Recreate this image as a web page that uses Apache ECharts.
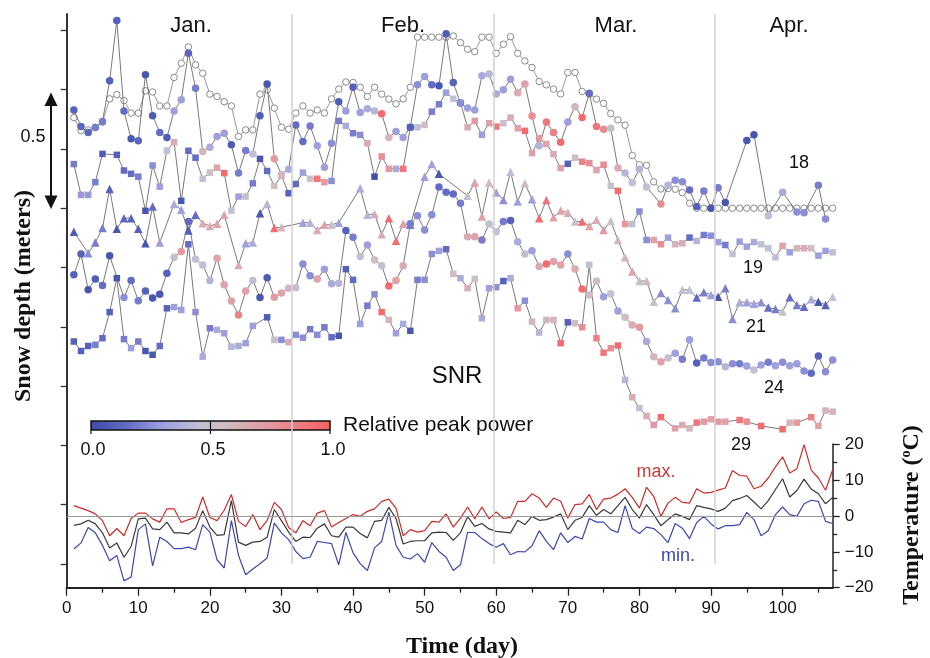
<!DOCTYPE html>
<html><head><meta charset="utf-8">
<script src="https://cdn.jsdelivr.net/npm/echarts@6/dist/echarts.min.js"></script>
<style>html,body{margin:0;padding:0;background:#fff}#c{width:930px;height:658px}</style>
</head><body><div id="c"></div>
<script>
// ---------------- data (index i -> day i+1) ----------------
const monthNames = ['Jan.', 'Feb.', 'Mar.', 'Apr.'];
const monthBounds = [31.5, 59.6, 90.5];
const dayTicks = [0, 10, 20, 30, 40, 50, 60, 70, 80, 90, 100];
const dayMinorTicks = [5, 15, 25, 35, 45, 55, 65, 75, 85, 95, 105];
const depthTicks = [-1.5, -1.25, -1, -0.75, -0.5, -0.25, 0, 0.25, 0.5, 0.75];
const tempTicks = [-20, -10, 0, 10, 20];
const powerTicks = ['0.0', '0.5', '1.0'];

// reference snow depth (open circles), metres
const refDepth = [0.382,0.327,0.330,0.341,0.363,0.461,0.479,0.454,0.401,0.401,
 0.495,0.490,0.431,0.431,0.551,0.611,0.680,0.604,0.569,0.481,
 0.471,0.449,0.431,0.302,0.330,0.330,0.481,0.499,0.422,0.341,
 0.333,0.401,0.431,0.401,0.414,0.401,0.461,0.502,0.532,0.530,
 0.510,0.471,0.510,0.481,0.460,0.440,0.461,0.510,0.721,0.721,
 0.721,0.721,0.721,0.726,0.698,0.670,0.660,0.721,0.721,0.653,
 0.691,0.723,0.653,0.621,0.593,0.534,0.520,0.502,0.482,0.572,
 0.572,0.492,0.481,0.460,0.442,0.399,0.372,0.350,0.222,0.183,
 0.181,0.111,0.081,0.083,0.080,0.066,0.021,0,0,0,
 0,0,0,0,0,0,0,0,0,0,
 0,0,0,0,0,0,0];

// SNR-derived depth (offset per satellite) and relative peak power
const snr18 = [0.414,0.344,0.319,0.340,0.365,0.537,0.791,0.410,0.293,0.284,
 0.563,0.390,0.319,0.298,0.410,0.457,0.653,0.506,0.239,0.257,
 0.302,0.316,0.267,0.148,0.243,0.229,0.390,0.524,0.208,0.143,
 0.164,0.351,0.281,0.347,0.263,0.173,0.274,0.449,0.410,0.510,
 0.403,0.419,0.410,0.398,0.298,0.323,0.298,0.341,0.520,0.555,
 0.520,0.516,0.735,0.530,0.443,0.422,0.414,0.558,0.566,0.481,
 0.499,0.544,0.487,0.524,0.389,0.263,0.363,0.319,0.278,0.363,
 0.428,0.382,0.485,0.344,0.333,0.337,0.169,0.148,0.108,0.164,
 0.089,null,0.018,0.097,0.118,0.111,0.077,0.007,0.073,0.000,
 0.086,0.024,null,null,0.285,0.310,null,-0.032,null,0.067,
 null,-0.016,-0.019,null,0.097,-0.046,null];
const pow18 = [0.10,0.12,0.12,0.20,0.20,0.10,0.10,0.15,0.05,0.12,
 0.05,0.08,0.15,0.08,0.30,0.30,0.12,0.20,0.60,0.35,
 0.30,0.30,0.08,0.20,0.20,0.45,0.08,0.05,0.75,0.45,
 0.35,0.15,0.15,0.20,0.30,0.30,0.25,0.08,0.30,0.10,
 0.30,0.35,0.40,0.95,0.60,0.30,0.30,0.10,0.25,0.30,
 0.15,0.05,0.08,0.10,0.15,0.30,0.30,0.35,0.40,0.35,
 0.30,0.30,0.65,0.70,0.80,0.40,0.90,0.85,0.95,0.30,
 0.60,0.95,0.15,0.90,0.80,0.45,0.65,0.40,0.45,0.40,
 0.45,null,0.80,0.40,0.25,0.25,0.15,0.10,0.20,0.05,
 0.20,0.05,null,null,0.05,0.05,null,0.45,null,0.35,
 null,0.25,0.25,null,0.20,0.25,null];

const snr19 = [0.186,0.056,0.056,0.110,0.229,null,0.225,0.159,0.145,0.133,
 -0.011,0.180,0.091,0.243,0.278,0.031,0.242,0.213,0.124,0.150,
 0.171,0.148,-0.010,0.049,0.049,0.105,0.208,0.157,0.094,0.136,
 0.063,0.102,0.150,0.124,0.124,0.110,0.115,0.368,0.347,0.316,
 0.309,0.274,0.133,0.218,0.166,0.166,0.166,0.341,0.341,0.351,
 0.407,0.438,0.487,0.461,0.445,0.341,0.368,0.309,0.358,0.344,
 0.358,0.382,0.337,0.326,0.232,0.295,0.271,0.228,0.169,0.187,
 0.213,0.196,0.190,0.161,0.183,0.094,0.073,-0.067,-0.067,-0.014,
 -0.134,-0.134,-0.152,-0.124,-0.152,-0.148,-0.124,-0.138,-0.113,-0.116,
 -0.143,-0.155,-0.193,-0.141,-0.162,-0.143,-0.152,-0.169,-0.207,-0.159,
 -0.186,-0.169,-0.169,-0.169,-0.200,-0.180,-0.186];
const pow19 = [0.20,0.28,0.28,0.20,0.08,null,0.10,0.15,0.15,0.20,
 0.05,0.25,0.30,0.45,0.65,0.05,0.15,0.15,0.45,0.55,
 0.70,0.95,0.45,0.30,0.50,0.20,0.05,0.15,0.55,0.60,
 0.10,0.15,0.30,0.55,0.90,0.75,0.25,0.20,0.35,0.20,
 0.25,0.65,0.02,0.80,0.75,0.35,0.90,0.10,0.45,0.55,
 0.20,0.20,0.30,0.45,0.25,0.65,0.75,0.30,0.70,0.90,
 0.50,0.65,0.70,0.95,0.70,0.75,0.70,0.65,0.70,0.10,
 0.55,0.85,0.80,0.70,0.80,0.50,0.95,0.75,0.45,0.25,
 0.25,0.70,0.80,0.30,0.60,0.65,0.15,0.40,0.20,0.25,
 0.30,0.20,0.45,0.30,0.30,0.35,0.45,0.45,0.45,0.70,
 0.30,0.60,0.65,0.55,0.30,0.30,0.45];

const snr21 = [-0.099,null,-0.190,-0.145,-0.084,0.081,-0.087,-0.042,-0.042,-0.087,
 -0.148,0.007,-0.145,null,0.018,-0.007,-0.094,-0.028,-0.063,-0.075,
 -0.066,-0.028,null,-0.239,-0.148,-0.145,-0.021,0.018,-0.084,-0.080,
 null,null,-0.061,-0.061,-0.092,-0.070,-0.070,-0.061,null,null,
 0.084,-0.028,-0.024,-0.110,-0.042,-0.137,-0.066,-0.070,null,0.133,
 0.186,0.145,null,null,null,0.052,0.108,-0.035,0.108,0.066,
 0.035,0.154,0.028,0.105,0.038,-0.042,0.035,-0.038,-0.010,-0.019,
 -0.056,-0.056,-0.075,-0.049,-0.092,-0.054,-0.134,-0.207,-0.267,-0.307,
 -0.307,-0.394,-0.358,-0.387,-0.422,-0.344,-0.344,-0.377,-0.354,-0.366,
 -0.373,-0.337,-0.467,-0.396,-0.396,-0.403,-0.396,-0.419,-0.425,-0.436,
 -0.375,-0.408,-0.415,-0.384,-0.394,-0.408,-0.373];
const pow21 = [0.08,null,0.25,0.20,0.20,0.10,0.05,0.12,0.12,0.10,
 0.05,0.15,0.30,null,0.35,0.30,0.10,0.15,0.65,0.65,
 0.70,0.70,null,0.65,0.30,0.35,0.05,0.40,0.95,0.60,
 null,null,0.30,0.40,0.65,0.70,0.50,0.30,null,null,
 0.35,0.40,0.65,0.65,0.95,0.95,0.70,0.20,null,0.30,
 0.30,0.05,null,null,null,0.50,0.70,0.70,0.55,0.30,
 0.25,0.45,0.30,0.55,0.30,0.95,0.90,0.70,0.70,0.65,
 0.50,0.95,0.70,0.65,0.75,0.50,0.60,0.60,0.70,0.50,
 0.60,0.50,0.25,0.25,0.25,0.50,0.45,0.15,0.20,0.30,
 0.05,0.20,0.25,0.35,0.30,0.30,0.25,0.15,0.20,0.55,
 0.15,0.20,0.15,0.35,0.05,0.10,0.45];

const snr24 = [-0.281,-0.193,-0.344,-0.298,-0.326,-0.201,null,-0.377,-0.305,-0.390,
 -0.349,-0.379,-0.363,-0.274,-0.207,-0.183,-0.056,-0.215,-0.239,-0.305,
 -0.211,-0.323,-0.391,-0.450,-0.349,-0.305,-0.377,-0.293,-0.375,-0.358,
 -0.337,-0.335,-0.235,-0.285,-0.299,-0.257,-0.319,-0.316,-0.094,-0.122,
 -0.204,-0.155,-0.218,-0.243,-0.328,-0.305,-0.243,-0.066,-0.032,-0.092,
 -0.028,0.089,0.067,0.060,0.021,-0.120,-0.120,-0.134,-0.067,-0.099,
 -0.056,-0.052,-0.141,-0.193,-0.179,-0.246,-0.235,-0.225,-0.239,-0.193,
 -0.256,-0.341,-0.366,-0.307,-0.373,-0.361,-0.433,-0.460,-0.492,-0.502,
 -0.562,-0.626,-0.647,-0.632,-0.611,-0.637,-0.555,-0.653,-0.632,-0.651,
 -0.647,-0.668,-0.656,-0.656,-0.665,-0.682,-0.661,-0.649,-0.664,-0.649,
 -0.664,-0.656,-0.686,-0.696,-0.623,-0.689,-0.640];
const pow24 = [0.10,0.10,0.05,0.08,0.15,0.05,null,0.25,0.15,0.20,
 0.10,0.05,0.05,0.10,0.50,0.75,0.15,0.45,0.45,0.40,
 0.70,0.70,0.70,0.85,0.70,0.45,0.05,0.08,0.75,0.70,
 0.60,0.45,0.25,0.25,0.70,0.30,0.35,0.40,0.10,0.20,
 0.45,0.30,0.55,0.45,0.95,0.70,0.65,0.20,0.25,0.25,
 0.25,0.15,0.15,0.15,0.20,0.65,0.70,0.20,0.45,0.45,
 0.20,0.10,0.35,0.45,0.30,0.65,0.95,0.70,0.70,0.25,
 0.65,0.95,0.55,0.55,0.30,0.50,0.30,0.55,0.65,0.75,
 0.35,0.60,0.70,0.50,0.30,0.20,0.30,0.10,0.20,0.25,
 0.25,0.40,0.25,0.20,0.30,0.45,0.30,0.20,0.30,0.25,
 0.30,0.30,0.25,0.15,0.10,0.25,0.25];

const snr29 = [-0.562,-0.602,-0.581,-0.576,-0.548,-0.438,-0.295,-0.552,-0.590,-0.562,
 -0.602,-0.618,-0.581,-0.422,-0.417,-0.429,-0.152,-0.438,-0.626,-0.506,
 -0.513,-0.527,-0.584,-0.581,-0.569,-0.496,null,-0.460,-0.555,-0.555,
 -0.565,-0.534,-0.546,-0.510,-0.534,-0.502,-0.544,-0.538,-0.257,-0.302,
 -0.488,-0.411,-0.363,-0.438,-0.471,-0.527,-0.488,-0.517,-0.302,-0.302,
 -0.193,-0.180,-0.173,-0.277,-0.295,-0.337,-0.298,-0.464,-0.337,-0.333,
 -0.307,-0.295,-0.422,-0.390,-0.478,-0.524,-0.471,-0.471,-0.569,-0.481,
 -0.485,-0.502,-0.239,-0.548,-0.609,-0.590,-0.579,-0.724,-0.797,-0.843,
 -0.876,-0.914,-0.881,null,-0.928,-0.914,-0.928,-0.904,-0.900,-0.890,
 -0.900,-0.900,null,-0.893,-0.900,null,-0.918,null,null,-0.932,
 -0.904,-0.904,null,-0.881,-0.918,-0.853,-0.858];
const pow29 = [0.10,0.10,0.10,0.20,0.15,0.10,0.05,0.20,0.30,0.20,
 0.05,0.05,0.15,0.10,0.30,0.30,0.15,0.25,0.35,0.20,
 0.35,0.30,0.40,0.35,0.30,0.30,null,0.08,0.50,0.25,
 0.65,0.25,0.25,0.20,0.25,0.20,0.15,0.05,0.10,0.15,
 0.30,0.20,0.25,0.95,0.60,0.30,0.35,0.05,0.20,0.25,
 0.25,0.30,0.15,0.55,0.35,0.65,0.55,0.35,0.30,0.25,
 0.10,0.35,0.75,0.25,0.60,0.40,0.60,0.60,0.95,0.10,
 0.55,0.80,0.45,0.85,0.90,0.80,0.95,0.40,0.65,0.45,
 0.65,0.75,0.95,null,0.70,0.65,0.60,0.90,0.75,0.70,
 0.75,0.70,null,0.90,0.80,null,0.95,null,null,0.95,
 0.60,0.75,null,0.85,0.70,0.60,0.60];

// daily air temperature, deg C
const tMax = [2.9,2.2,1.5,0.6,-1.3,-5.5,-3.5,-5.5,-0.7,0.8,
 0.8,-0.8,-1.7,2.0,2.0,-1.8,-1.0,-0.4,5.3,-0.4,
 -1.3,1.6,6.0,-1.5,-2.9,0.4,-3.8,-1.2,3.8,1.8,
 -3.2,-4.7,-1.3,-2.7,0.8,1.5,-3.1,-1.8,-0.7,0.4,
 -0.1,1.3,2.0,4.1,4.7,2.2,-5.5,-3.8,-4.5,-4.1,
 -1.5,-1.7,0.6,-3.1,-0.6,2.5,-0.8,2.5,-0.8,1.1,
 -0.7,-0.4,4.1,4.1,6.2,5.0,2.4,5.0,4.1,-0.6,
 3.2,3.4,6.0,1.8,4.7,5.0,6.1,7.6,5.2,2.2,
 8.0,5.5,-0.1,3.6,5.2,3.8,3.6,7.6,6.4,6.6,
 7.2,7.8,12.7,11.3,11.1,7.6,8.3,10.6,13.7,16.5,
 12.0,13.2,19.9,12.8,10.6,7.2,12.9];
const tMean = [-2.6,-2.2,-1.2,-2.2,-4.7,-8.9,-7.5,-11.5,-8.5,-0.8,
 -0.6,-3.6,-3.8,-1.7,-4.7,-4.7,-5.0,-3.4,1.5,-3.1,
 -5.4,-5.2,4.3,-7.3,-8.2,-7.3,-7.1,-5.9,1.8,-1.3,
 -4.5,-7.1,-5.9,-6.0,-3.4,-2.2,-5.5,-5.9,-3.1,-3.1,
 -4.9,-6.1,-1.5,-1.2,2.4,-0.7,-7.8,-7.1,-6.9,-6.9,
 -4.7,-4.5,-4.6,-6.8,-4.7,-0.2,-2.9,-2.1,-3.6,-4.3,
 -4.5,-4.7,-1.2,-2.4,-0.1,-1.2,-1.0,-0.3,0.6,-3.8,
 -1.2,-0.4,2.9,0.2,1.8,0.6,2.9,5.2,1.8,-0.6,
 3.2,0.4,-2.7,-1.0,0.6,-0.1,-1.0,2.9,2.4,2.0,
 1.3,2.2,4.3,4.9,5.7,3.9,2.0,4.3,7.4,10.4,
 5.3,7.1,10.3,7.5,6.2,3.4,5.2];
const tMin = [-9.2,-7.5,-3.2,-4.7,-8.2,-12.5,-11.0,-18.1,-17.0,-3.8,
 -2.2,-13.9,-5.9,-7.1,-9.1,-9.1,-8.7,-9.4,-2.4,-4.5,
 -12.2,-14.5,-1.3,-11.0,-16.4,-14.8,-13.3,-11.7,-2.0,-4.7,
 -6.6,-9.9,-11.9,-11.5,-7.1,-7.4,-7.7,-13.6,-4.6,-10.3,
 -13.3,-15.2,-8.9,-7.1,1.1,-8.2,-11.5,-12.0,-10.5,-12.9,
 -7.4,-9.9,-11.5,-15.2,-13.6,-4.6,-4.6,-6.3,-7.7,-8.7,
 -7.7,-10.8,-9.9,-10.0,-8.3,-4.1,-7.1,-9.4,-4.7,-7.4,
 -5.7,-6.4,-0.7,-1.7,-1.7,-3.8,-4.6,2.9,-3.5,-4.9,
 -3.1,-3.5,-5.2,-7.4,-2.1,-3.4,-6.3,-1.8,-0.1,-2.2,
 -3.6,-2.7,-2.7,-2.4,1.0,-1.0,-5.5,-4.1,0.4,2.5,
 0.4,-0.1,3.4,4.4,4.1,-1.5,-2.1];

// ---------------- helpers ----------------
const SANS = '"Liberation Sans", Arial, Helvetica, sans-serif';
const SERIF = '"Liberation Serif", "Times New Roman", serif';
const cmapStops = [[0,[60,76,168]],[0.15,[98,108,196]],[0.3,[158,160,222]],[0.45,[192,192,212]],
  [0.55,[206,190,196]],[0.75,[228,152,160]],[1,[248,96,96]]];
function cmap(v){
  if (v == null) v = 0.5;
  v = Math.max(0, Math.min(1, v));
  for (let i = 1; i < cmapStops.length; i++) {
    const [p1, c1] = cmapStops[i], [p0, c0] = cmapStops[i-1];
    if (v <= p1) {
      const t = (v - p0) / (p1 - p0);
      const c = c0.map((a, k) => Math.round(a + (c1[k] - a) * t));
      return 'rgb(' + c.join(',') + ')';
    }
  }
  return 'rgb(248,96,96)';
}
function pts(vals, pows){
  const out = [];
  vals.forEach((v, i) => { if (v !== null) out.push(pows ? [i + 1, v, pows[i]] : [i + 1, v]); });
  return out;
}
const snowSets = [
  {vals: snr18, pow: pow18, symbol: 'circle', size: 7.5},
  {vals: snr19, pow: pow19, symbol: 'rect', size: 6.5},
  {vals: snr21, pow: pow21, symbol: 'triangle', size: 8.5},
  {vals: snr24, pow: pow24, symbol: 'circle', size: 7.5},
  {vals: snr29, pow: pow29, symbol: 'rect', size: 6.5}
];

const G = {left: 66.7, right: 97.3};
const chart = echarts.init(document.getElementById('c'), null, {renderer: 'canvas', width: 930, height: 658});

const txt = (text, x, y, size, opts) => Object.assign({
  type: 'text', x: x, y: y, silent: true,
  style: Object.assign({text: text, fontSize: size, fontFamily: SANS, fill: '#111',
    align: 'center', verticalAlign: 'middle', textAlign: 'center', textVerticalAlign: 'middle'}, (opts && opts.style) || {})
}, (opts && opts.el) || {});

const monthX = [191, 403, 616, 789];
const graphic = [];
monthNames.forEach((m, i) => graphic.push(txt(m, monthX[i], 26, 22)));
graphic.push(txt('0.5', 33, 137, 18));
graphic.push({type: 'line', silent: true, shape: {x1: 51, y1: 100, x2: 51, y2: 202}, style: {stroke: '#111', lineWidth: 2}});
graphic.push({type: 'polygon', silent: true, shape: {points: [[51, 92.5], [44.5, 106], [57.5, 106]]}, style: {fill: '#111'}});
graphic.push({type: 'polygon', silent: true, shape: {points: [[51, 209], [44.5, 195.5], [57.5, 195.5]]}, style: {fill: '#111'}});
graphic.push(txt('Snow depth (meters)', 24, 296, 24, {style: {fontFamily: SERIF, fontWeight: 'bold'}, el: {rotation: Math.PI / 2}}));
[['18', 799, 163], ['19', 753, 268], ['21', 756, 327], ['24', 774, 388], ['29', 741, 445]]
  .forEach(a => graphic.push(txt(a[0], a[1], a[2], 18)));
graphic.push(txt('SNR', 457, 376, 24));
// colour bar
graphic.push({type: 'rect', silent: true, shape: {x: 91, y: 421, width: 239, height: 9},
  style: {fill: {type: 'linear', x: 0, y: 0, x2: 1, y2: 0,
    colorStops: cmapStops.map(s => ({offset: s[0], color: 'rgb(' + s[1].join(',') + ')'}))},
    stroke: '#111', lineWidth: 1.5}});
graphic.push({type: 'line', silent: true, shape: {x1: 210.5, y1: 421, x2: 210.5, y2: 434}, style: {stroke: '#111', lineWidth: 1.2}});
graphic.push({type: 'line', silent: true, shape: {x1: 91, y1: 430, x2: 91, y2: 434}, style: {stroke: '#111', lineWidth: 1.2}});
graphic.push({type: 'line', silent: true, shape: {x1: 330, y1: 430, x2: 330, y2: 434}, style: {stroke: '#111', lineWidth: 1.2}});
[[powerTicks[0], 93], [powerTicks[1], 213], [powerTicks[2], 333]].forEach(a => graphic.push(txt(a[0], a[1], 450, 18)));
graphic.push(txt('Relative peak power', 343, 425, 21, {style: {align: 'left', textAlign: 'left'}}));
graphic.push(txt('max.', 656, 472, 18, {style: {fill: '#d03a34'}}));
graphic.push(txt('min.', 678, 556, 18, {style: {fill: '#3a48b8'}}));
graphic.push(txt('Time (day)', 462, 647, 24, {style: {fontFamily: SERIF, fontWeight: 'bold'}}));
graphic.push({type: 'text', silent: true, x: 912, y: 515, rotation: Math.PI / 2,
  style: {text: '{a|Temperature (}{b|o}{a|C)}', align: 'center', verticalAlign: 'middle',
    textAlign: 'center', textVerticalAlign: 'middle',
    rich: {a: {fontSize: 24, fontFamily: SERIF, fontWeight: 'bold', fill: '#111', lineHeight: 26},
           b: {fontSize: 14, fontFamily: SERIF, fontWeight: 'bold', fill: '#111', verticalAlign: 'top', lineHeight: 14}}}});

const axisCol = '#222';
const option = {
  animation: false,
  backgroundColor: '#fff',
  grid: [
    {left: G.left, right: G.right, top: 14, height: 550},
    {left: G.left, right: G.right, top: 444.3, height: 143.4},
    {left: G.left, right: G.right, top: 444.3, height: 143.4}
  ],
  xAxis: [
    {gridIndex: 0, type: 'value', min: 0, max: 107, show: false},
    {gridIndex: 1, type: 'value', min: 0, max: 107, interval: 10, position: 'bottom',
      axisLine: {show: true, onZero: false, lineStyle: {color: axisCol, width: 2}},
      axisTick: {show: true, length: 8, customValues: dayTicks, lineStyle: {color: axisCol, width: 1.3}},
      axisLabel: {show: true, customValues: dayTicks, fontSize: 17, color: '#111', fontFamily: SANS, margin: 12},
      splitLine: {show: false}},
    {gridIndex: 2, type: 'value', min: 0, max: 107, interval: 5, position: 'bottom',
      axisLine: {show: false, onZero: false},
      axisTick: {show: true, length: 5, customValues: dayMinorTicks, lineStyle: {color: axisCol, width: 1.3}},
      axisLabel: {show: false}, splitLine: {show: false}}
  ],
  yAxis: [
    {gridIndex: 0, type: 'value', min: -1.5, max: 0.8187, interval: 0.25, position: 'left',
      axisLine: {show: true, onZero: false, lineStyle: {color: '#333', width: 2}},
      axisTick: {show: true, length: 6, customValues: depthTicks, lineStyle: {color: '#333', width: 1.3}},
      axisLabel: {show: false}, splitLine: {show: false}},
    {gridIndex: 1, type: 'value', min: -20, max: 20, interval: 10, position: 'right',
      axisLine: {show: true, onZero: false, lineStyle: {color: axisCol, width: 1.5}},
      axisTick: {show: true, length: 7, customValues: tempTicks, lineStyle: {color: axisCol, width: 1.3}},
      minorTick: {show: true, splitNumber: 2, length: 4.5, lineStyle: {color: axisCol, width: 1.3}},
      axisLabel: {show: true, fontSize: 17, color: '#111', fontFamily: SANS, margin: 12,
        formatter: v => String(v).replace('-', '\u2212')},
      splitLine: {show: false}},
    {gridIndex: 1, type: 'value', min: -20, max: 20, position: 'left',
      axisLine: {show: true, onZero: false, lineStyle: {color: '#333', width: 2}},
      axisTick: {show: false}, axisLabel: {show: false}, splitLine: {show: false}},
    {gridIndex: 2, type: 'value', min: -20, max: 20, show: false}
  ],
  series: [
    {type: 'line', xAxisIndex: 0, yAxisIndex: 0, data: pts(refDepth), symbol: 'circle', symbolSize: 6.5,
      showAllSymbol: true, clip: false, z: 2, emphasis: {disabled: true}, silent: true,
      lineStyle: {color: '#9a9a9a', width: 1}, itemStyle: {color: '#fff', borderColor: '#8a8a8a', borderWidth: 1},
      markLine: {silent: true, symbol: 'none', label: {show: false}, animation: false,
        lineStyle: {color: '#d0d0d0', width: 1.5, type: 'solid'},
        data: monthBounds.map(b => ({xAxis: b}))}}
  ].concat(snowSets.map(s => ({
      type: 'line', xAxisIndex: 0, yAxisIndex: 0, data: pts(s.vals, s.pow), symbol: s.symbol, symbolSize: s.size,
      showAllSymbol: true, clip: false, z: 3, emphasis: {disabled: true}, silent: true,
      lineStyle: {color: '#6a6a6a', width: 0.9},
      itemStyle: {color: p => cmap(p.data[2])}
  }))).concat([
    {type: 'line', xAxisIndex: 1, yAxisIndex: 1, data: pts(tMax), symbol: 'none', silent: true,
      lineStyle: {color: '#cd2d28', width: 1.2},
      markLine: {silent: true, symbol: 'none', label: {show: false}, animation: false,
        lineStyle: {color: '#9a9a9a', width: 1, type: 'solid'}, data: [{yAxis: 0}]}},
    {type: 'line', xAxisIndex: 1, yAxisIndex: 1, data: pts(tMean), symbol: 'none', silent: true,
      lineStyle: {color: '#3a3a3a', width: 1.2}},
    {type: 'line', xAxisIndex: 1, yAxisIndex: 1, data: pts(tMin), symbol: 'none', silent: true,
      lineStyle: {color: '#3b47b5', width: 1.2}}
  ]),
  graphic: graphic
};
chart.setOption(option);
</script>
</body></html>
